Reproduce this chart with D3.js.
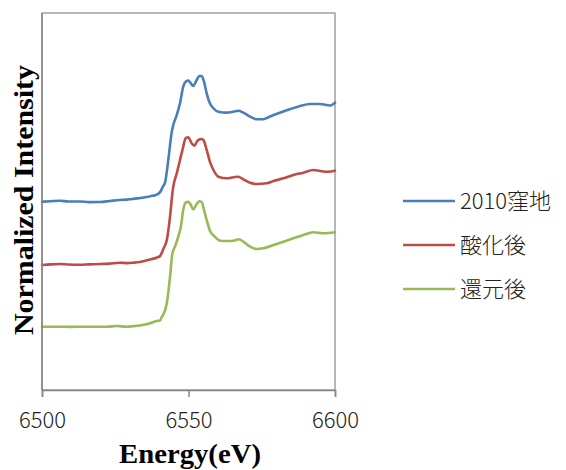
<!DOCTYPE html>
<html>
<head>
<meta charset="utf-8">
<script src="https://cdn.jsdelivr.net/npm/d3@7/dist/d3.min.js"></script>
<style>
  html, body { margin: 0; padding: 0; background: #fff; }
  svg { display: block; }
</style>
</head>
<body>
<svg id="chart" width="566" height="470"></svg>
<script>
// XANES spectra, offset vertically (pre-edge baselines at 1, 2, 3)
const energy_2010 = [6500, 6503, 6506.1, 6509, 6513, 6516, 6519.8, 6523.2, 6526.6, 6529, 6531.1, 6533.4, 6535.8, 6536.9, 6538.6, 6540.3, 6541.3, 6542, 6543.1, 6544.3, 6544.8, 6546, 6547.1, 6548.2, 6549, 6549.9, 6550.8, 6551.6, 6552.8, 6553.7, 6554.5, 6555.3, 6556.2, 6557.3, 6558.5, 6560.2, 6563, 6565.3, 6567, 6568.7, 6571, 6573.3, 6575.5, 6577.8, 6581.2, 6584.6, 6588.1, 6591.5, 6594.9, 6598.3, 6600];
const value_2010  = [2.997, 3.005, 3.013, 3.0, 3.0, 2.99, 2.992, 3.008, 3.024, 3.03, 3.04, 3.055, 3.07, 3.085, 3.1, 3.15, 3.24, 3.3, 3.661, 4.111, 4.218, 4.377, 4.563, 4.827, 4.907, 4.923, 4.881, 4.838, 4.934, 4.998, 4.998, 4.907, 4.722, 4.563, 4.484, 4.429, 4.414, 4.429, 4.445, 4.414, 4.35, 4.308, 4.308, 4.353, 4.414, 4.468, 4.52, 4.552, 4.552, 4.528, 4.573];

const energy_ox = [6500, 6503, 6506.1, 6509, 6513, 6516, 6519.8, 6523, 6526.6, 6529, 6531.1, 6533.4, 6536.9, 6539.1, 6540.3, 6541.4, 6542.6, 6543.7, 6544.5, 6544.8, 6546, 6547.1, 6548.2, 6549, 6549.9, 6551.1, 6552, 6553, 6554.3, 6555.1, 6556.2, 6557.3, 6558.5, 6560.2, 6563, 6565.3, 6567, 6568.7, 6571, 6573.3, 6576.7, 6579, 6582.4, 6585.8, 6589.2, 6592.6, 6594.9, 6597.7, 6600];
const value_ox  = [1.99, 2.0, 2.005, 1.998, 1.994, 2.0, 2.005, 2.012, 2.026, 2.02, 2.026, 2.037, 2.077, 2.106, 2.133, 2.244, 2.387, 2.758, 3.131, 3.236, 3.449, 3.661, 3.872, 4.006, 4.022, 3.926, 3.888, 3.963, 3.995, 3.979, 3.82, 3.634, 3.501, 3.395, 3.369, 3.385, 3.395, 3.353, 3.299, 3.279, 3.29, 3.326, 3.369, 3.422, 3.459, 3.501, 3.486, 3.474, 3.49];

const energy_red = [6500, 6505, 6510, 6513, 6518, 6522.1, 6525.5, 6528.9, 6531, 6533.4, 6536.9, 6539.1, 6540.3, 6540.9, 6541.4, 6542.6, 6543.7, 6544.5, 6545.4, 6546.5, 6547.4, 6548.2, 6549, 6549.9, 6550.8, 6551.6, 6552.8, 6553.7, 6554.5, 6555.3, 6556.2, 6557.3, 6559, 6560.8, 6563, 6565.3, 6567.2, 6568.7, 6571, 6573.3, 6575.5, 6579, 6582.4, 6585.8, 6589.2, 6592.6, 6596, 6600];
const value_red  = [1.007, 1.007, 1.005, 1.007, 1.007, 1.007, 1.019, 1.007, 1.015, 1.027, 1.062, 1.098, 1.106, 1.167, 1.2, 1.38, 1.803, 2.176, 2.281, 2.44, 2.599, 2.865, 2.981, 2.997, 2.944, 2.876, 2.96, 3.003, 2.992, 2.865, 2.706, 2.535, 2.44, 2.376, 2.372, 2.376, 2.399, 2.36, 2.281, 2.244, 2.255, 2.308, 2.36, 2.414, 2.467, 2.51, 2.494, 2.51];

const seriesNames  = ["2010窪地", "酸化後", "還元後"];
const seriesColors = ["#4a7ebb", "#be4b48", "#98b954"];
const xTicks = [6500, 6550, 6600];

const series = [
  { name: seriesNames[0], color: seriesColors[0], pts: energy_2010.map((e, i) => [e, value_2010[i]]) },
  { name: seriesNames[1], color: seriesColors[1], pts: energy_ox.map((e, i) => [e, value_ox[i]]) },
  { name: seriesNames[2], color: seriesColors[2], pts: energy_red.map((e, i) => [e, value_red[i]]) }
];

const svg = d3.select("#chart");
const plot = { left: 42, top: 13, right: 335, bottom: 390 };

const x = d3.scaleLinear().domain([6500, 6600]).range([plot.left, plot.right]);
const y = d3.scaleLinear().domain([0, 6]).range([plot.bottom, plot.top]);

// plot frame
svg.append("rect")
  .attr("x", plot.left).attr("y", plot.top)
  .attr("width", plot.right - plot.left).attr("height", plot.bottom - plot.top)
  .attr("fill", "none").attr("stroke", "#878787").attr("stroke-width", 1.2);

// spectra
const line = d3.line().x(d => x(d[0])).y(d => y(d[1])).curve(d3.curveMonotoneX);
svg.append("g").selectAll("path").data(series).join("path")
  .attr("d", d => line(d.pts))
  .attr("fill", "none")
  .attr("stroke", d => d.color)
  .attr("stroke-width", 2.6)
  .attr("stroke-linejoin", "round")
  .attr("stroke-linecap", "round");

// x axis
const xAxis = d3.axisBottom(x).tickValues(xTicks).tickSize(7).tickPadding(15).tickFormat(d3.format("d"));
const gx = svg.append("g").attr("transform", `translate(0,${plot.bottom})`).call(xAxis);
gx.select(".domain").attr("stroke", "#868686").attr("stroke-width", 1.5);
gx.selectAll(".tick line").attr("stroke", "#868686").attr("stroke-width", 1.5);
gx.selectAll(".tick text")
  .attr("fill", "#222")
  .style("font-family", "'Noto Sans CJK JP', sans-serif")
  .style("font-size", "22px")
  .style("font-weight", 300);

// left axis line
svg.append("line")
  .attr("x1", plot.left).attr("x2", plot.left)
  .attr("y1", plot.top).attr("y2", plot.bottom)
  .attr("stroke", "#868686").attr("stroke-width", 1.5);

// axis titles
svg.append("text")
  .attr("x", 190).attr("y", 463)
  .attr("text-anchor", "middle")
  .attr("textLength", 142).attr("lengthAdjust", "spacingAndGlyphs")
  .style("font-family", "'Liberation Serif', 'Times New Roman', serif")
  .style("font-weight", "bold").style("font-size", "27px")
  .attr("fill", "#000")
  .text("Energy(eV)");

svg.append("text")
  .attr("transform", "translate(33,200) rotate(-90)")
  .attr("text-anchor", "middle")
  .attr("textLength", 270).attr("lengthAdjust", "spacingAndGlyphs")
  .style("font-family", "'Liberation Serif', 'Times New Roman', serif")
  .style("font-weight", "bold").style("font-size", "28px")
  .attr("fill", "#000")
  .text("Normalized Intensity");

// legend
const legY = d3.scalePoint().domain(seriesNames).range([201, 289]);
const leg = svg.append("g").selectAll("g").data(series).join("g")
  .attr("transform", d => `translate(0,${legY(d.name)})`);
leg.append("line")
  .attr("x1", 403).attr("x2", 455).attr("y1", 0).attr("y2", 0)
  .attr("stroke", d => d.color).attr("stroke-width", 2.6);
leg.append("text")
  .attr("x", 460).attr("y", 0).attr("dy", "0.36em")
  .style("font-family", "'Noto Sans CJK JP', sans-serif")
  .style("font-size", "22px")
  .style("font-weight", 300)
  .attr("fill", "#222")
  .text(d => d.name);
</script>
</body>
</html>
